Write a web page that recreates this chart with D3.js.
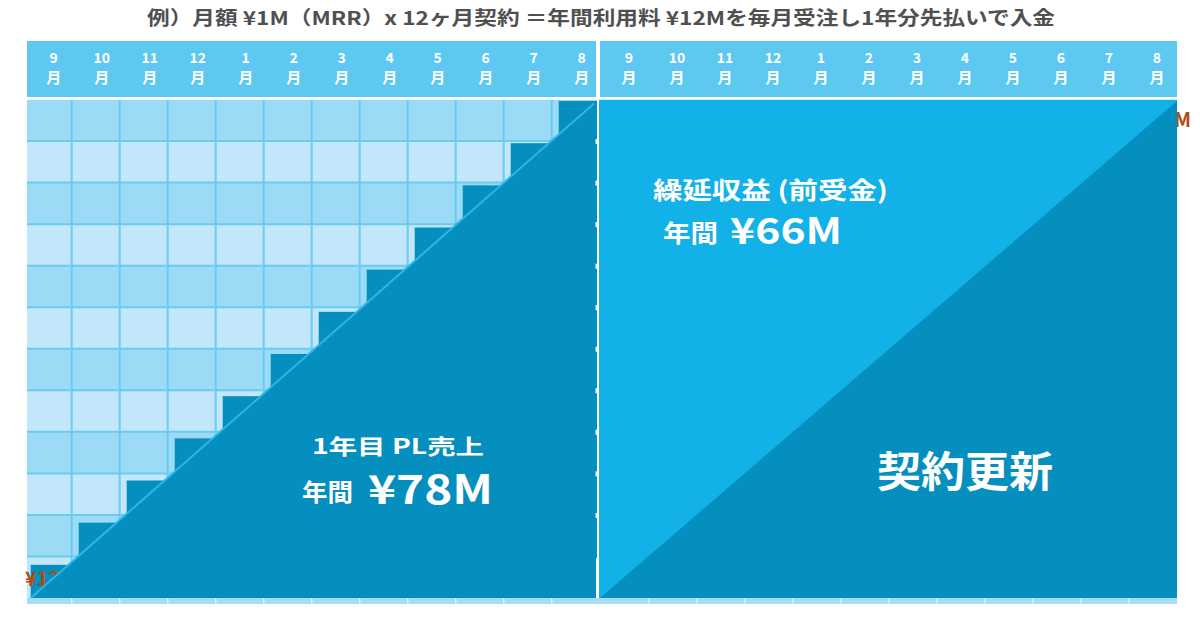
<!DOCTYPE html>
<html><head><meta charset="utf-8">
<script src="https://cdn.jsdelivr.net/npm/d3@7"></script>
<style>
body{margin:0;background:#fff;}
text{font-family:"Noto Sans CJK JP","Noto Sans",sans-serif;font-weight:700;}
</style></head>
<body><svg id="c" width="1200" height="618"></svg>
<script>
// ---- data ----
const title = "例）月額 ¥1M（MRR）x 12ヶ月契約 ＝年間利用料 ¥12Mを毎月受注し1年分先払いで入金";
const monthNums = ["9","10","11","12","1","2","3","4","5","6","7","8"];
const monthUnit = "月";
const cumulativeRevenue = [1,2,3,4,5,6,7,8,9,10,11,12]; // ¥M recognised by each month
const annualContract = 12;       // ¥M contract size
const plRevenueTotal = 78;       // ¥M year-1 PL revenue
const deferredTotal = 66;        // ¥M deferred revenue
const labelPL = "1年目 PL売上";
const labelDeferred = "繰延収益 (前受金)";
const labelYear = "年間";
const labelRenew = "契約更新";
const hiddenLabel = "¥12M";

const svg = d3.select("#c");
const DARK = "#058FBE", BRIGHT = "#12B1E8", HEAD = "#5DC9F1";
const ROW_A = "#9BDBF6", ROW_B = "#C3E7FA", GRIDLINE = "#6ACBF1";

// scales
const gridTop = 99.5, gridBot = 598;
const xL = d3.scaleBand().domain(monthNums).range([23.7, 23.7 + 48 * 12]);
const xR = d3.scaleBand().domain(monthNums).range([605, 605 + 48 * 12]);
const y = d3.scaleLinear().domain([0, annualContract]).range([607, 101]);
const rowY = d3.scaleLinear().domain([0, 12]).range([gridTop, gridBot]);
const leftX0 = 27, leftX1 = 597, rightX0 = 599, rightX1 = 1177;

function stretched(x, yy, size, len, txt) {
  return svg.append("text").attr("x", x).attr("y", yy).attr("font-size", size)
    .attr("textLength", len).attr("lengthAdjust", "spacingAndGlyphs").text(txt);
}

// title
stretched(147, 25, 19, 908, title).attr("fill", "#505050");

// header bands
svg.append("rect").attr("x", leftX0).attr("y", 41).attr("width", 596 - leftX0).attr("height", 56).attr("fill", HEAD);
svg.append("rect").attr("x", 600).attr("y", 41).attr("width", rightX1 - 600).attr("height", 56).attr("fill", HEAD);

function headerLabels(sc, dx) {
  const g = svg.append("g");
  monthNums.forEach(m => {
    const cx = sc(m) + sc.bandwidth() / 2 + dx;
    g.append("text").attr("x", cx).attr("y", 63).attr("text-anchor", "middle")
      .attr("font-size", 14).attr("fill", "#fff").text(m);
    g.append("text").attr("x", cx).attr("y", 83).attr("text-anchor", "middle")
      .attr("font-size", 15).attr("fill", "#fff").text(monthUnit);
  });
}
headerLabels(xL, 6);
headerLabels(xR, 0);

// left clip
const defs = svg.append("defs");
defs.append("clipPath").attr("id", "clipL").append("rect")
  .attr("x", leftX0).attr("y", gridTop).attr("width", leftX1 - leftX0).attr("height", gridBot - gridTop);

const gL = svg.append("g").attr("clip-path", "url(#clipL)");
// row stripes
d3.range(12).forEach(i => {
  gL.append("rect").attr("x", leftX0).attr("y", rowY(i)).attr("width", leftX1 - leftX0)
    .attr("height", rowY(i + 1) - rowY(i)).attr("fill", i % 2 === 0 ? ROW_A : ROW_B);
});
// grid lines
d3.range(1, 12).forEach(i => {
  gL.append("line").attr("x1", leftX0).attr("x2", leftX1).attr("y1", rowY(i)).attr("y2", rowY(i))
    .attr("stroke", GRIDLINE).attr("stroke-width", 2);
});
monthNums.slice(1).forEach(m => {
  gL.append("line").attr("x1", xL(m)).attr("x2", xL(m)).attr("y1", gridTop).attr("y2", gridBot)
    .attr("stroke", GRIDLINE).attr("stroke-width", 2);
});
// staircase bars
gL.selectAll("rect.bar").data(cumulativeRevenue).join("rect").attr("class", "bar")
  .attr("x", (d, i) => xL(monthNums[i]) + 7)
  .attr("y", d => y(d))
  .attr("width", xL.bandwidth() - 8)
  .attr("height", d => gridBot - y(d))
  .attr("fill", DARK);

// hidden orange label (mostly covered)
svg.append("text").attr("x", 25).attr("y", 586).attr("font-size", 20)
  .attr("fill", "#B34C0E").text(hiddenLabel);

// PL triangle (area = cumulative revenue), drawn above the label
const gTri = svg.append("g").attr("clip-path", "url(#clipL)");
const triL = [[xL(monthNums[0]) + 7, gridBot], [leftX1, y(annualContract)], [leftX1, gridBot]];
gTri.append("path").attr("d", d3.line()(triL)).attr("fill", DARK);
svg.append("line").attr("x1", triL[0][0]).attr("y1", triL[0][1]).attr("x2", triL[1][0] - 3).attr("y2", triL[1][1] + 2.5)
  .attr("stroke", "#2DB6EA").attr("stroke-width", 2);

// bottom strip
svg.append("rect").attr("x", leftX0).attr("y", 598).attr("width", rightX1 - leftX0).attr("height", 6).attr("fill", "#A6DDF6");
[...monthNums.slice(1).map(m => xL(m)), ...monthNums.slice(1).map(m => xR(m) - 4)].forEach(xx => {
  svg.append("line").attr("x1", xx).attr("x2", xx).attr("y1", 598).attr("y2", 604)
    .attr("stroke", "#D6F0FB").attr("stroke-width", 1.5);
});

// right hidden label (only M visible)
svg.append("text").attr("x", 1191).attr("y", 127).attr("text-anchor", "end").attr("font-size", 20)
  .attr("fill", "#B34C0E").text(hiddenLabel);

// right panel
svg.append("rect").attr("x", rightX0).attr("y", gridTop).attr("width", rightX1 - rightX0)
  .attr("height", gridBot - gridTop).attr("fill", BRIGHT);
const triR = [[600, gridBot], [rightX1, y(annualContract)], [rightX1, gridBot]];
svg.append("path").attr("d", d3.line()(triR)).attr("fill", DARK);

// divider
svg.append("rect").attr("x", 596).attr("y", 41).attr("width", 4).attr("height", 57).attr("fill", "#fff");
svg.append("rect").attr("x", leftX0).attr("y", 97).attr("width", rightX1 - leftX0).attr("height", 2.5).attr("fill", "#fff");
d3.range(1, 11).forEach(i => {
  svg.append("rect").attr("x", 595.5).attr("y", rowY(i) - 2).attr("width", 3).attr("height", 5).attr("fill", "#fff");
});
svg.append("rect").attr("x", 596).attr("y", 558).attr("width", 3).attr("height", 40).attr("fill", "#fff");

// annotations
stretched(312, 454, 21, 172, labelPL).attr("fill", "#fff");
stretched(302, 501, 24, 51, labelYear).attr("fill", "#fff");
stretched(368, 504, 40, 125, "¥" + plRevenueTotal + "M").attr("fill", "#fff");

stretched(653, 199, 24, 235, labelDeferred).attr("fill", "#fff");
stretched(663, 242, 24, 55, labelYear).attr("fill", "#fff");
stretched(730, 244, 36, 112, "¥" + deferredTotal + "M").attr("fill", "#fff");

stretched(877, 487, 42, 176, labelRenew).attr("fill", "#fff");
</script></body></html>
